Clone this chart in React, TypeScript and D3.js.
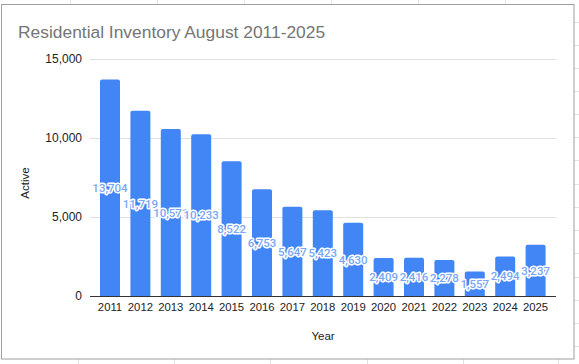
import React from "react";
import * as d3 from "d3";

const years = ["2011","2012","2013","2014","2015","2016","2017","2018","2019","2020","2021","2022","2023","2024","2025"];
const active = [13704, 11719, 10571, 10233, 8522, 6753, 5647, 5423, 4630, 2409, 2416, 2278, 1557, 2494, 3237];
const yTicks = [0, 5000, 10000, 15000];
const title = "Residential Inventory August 2011-2025";
const xTitle = "Year";
const yTitle = "Active";

const W = 579, H = 364;
const topGridX = [70, 157, 244, 331, 418, 505];
const bottomGridX = [78, 174, 270, 367, 463, 558];
const rightGridY = [22, 45, 68, 91, 114, 137, 160, 184, 207, 230, 253, 277, 300, 323, 346];

function barPath(x: number, y: number, w: number, h: number, r: number) {
  const rr = Math.min(r, h);
  return `M${x},${y + h}V${y + rr}Q${x},${y} ${x + rr},${y}H${x + w - rr}Q${x + w},${y} ${x + w},${y + rr}V${y + h}Z`;
}

export default function App() {
  const x = d3.scaleBand<string>().domain(years).range([94.8, 550.8]).paddingInner(0.342).paddingOuter(0.171);
  const y = d3.scaleLinear().domain([0, 15000]).range([296, 59]);
  const fmt = d3.format(",");
  const bw = 20;
  return (
    <svg width={W} height={H} style={{ position: "absolute", left: 0, top: 0 }} xmlns="http://www.w3.org/2000/svg">
      <rect x={0} y={0} width={W} height={H} fill="#fff" />
      {topGridX.map((gx, i) => <line key={"t" + i} x1={gx + 0.5} x2={gx + 0.5} y1={0} y2={4} stroke="#e2e2e2" />)}
      {bottomGridX.map((gx, i) => <line key={"b" + i} x1={gx + 0.5} x2={gx + 0.5} y1={359} y2={H} stroke="#e2e2e2" />)}
      {rightGridY.map((gy, i) => <line key={"r" + i} x1={574} x2={W} y1={gy + 0.5} y2={gy + 0.5} stroke="#e2e2e2" />)}
      <rect x={1.5} y={4.5} width={572.5} height={354.5} fill="#fff" stroke="#9e9e9e" />
      <text x={18} y={38} fontFamily="Liberation Sans, Arial, sans-serif" fontSize={17.4} fill="#757575">{title}</text>
      {yTicks.filter(t => t > 0).map(t => (
        <line key={"g" + t} x1={90} x2={556} y1={Math.round(y(t)) + 0.5} y2={Math.round(y(t)) + 0.5} stroke="#e0e0e0" />
      ))}
      {yTicks.map(t => (
        <text key={"yl" + t} x={82} y={y(t)} dy="0.35em" textAnchor="end" fontFamily="Liberation Sans, Arial, sans-serif" fontSize={12} fill="#222">{fmt(t)}</text>
      ))}
      {years.map((yr, i) => {
        const cx = (x(yr) as number) + x.bandwidth() / 2;
        const top = y(active[i]);
        return <path key={"bar" + yr} d={barPath(cx - bw / 2, top, bw, y(0) - top, 2)} fill="#4285f4" />;
      })}
      <line x1={90} x2={556} y1={296.5} y2={296.5} stroke="#333" />
      {years.map((yr) => {
        const cx = (x(yr) as number) + x.bandwidth() / 2;
        return <text key={"xl" + yr} x={cx} y={311} textAnchor="middle" fontFamily="Liberation Sans, Arial, sans-serif" fontSize={11.3} fill="#222">{yr}</text>;
      })}
      {years.map((yr, i) => {
        const cx = (x(yr) as number) + x.bandwidth() / 2;
        const mid = (y(active[i]) + y(0)) / 2;
        return (
          <text key={"dl" + yr} x={cx} y={mid} dy="0.36em" textAnchor="middle" fontFamily="Roboto, Arial, sans-serif" fontSize={11.5} fontWeight={500}
            fill="#7aa7f7" stroke="#ffffff" strokeWidth={3} strokeLinejoin="round" style={{ paintOrder: "stroke" }}>{fmt(active[i])}</text>
        );
      })}
      <text x={323} y={340} textAnchor="middle" fontFamily="Liberation Sans, Arial, sans-serif" fontSize={11.5} fill="#222">{xTitle}</text>
      <text transform="translate(29,183) rotate(-90)" textAnchor="middle" fontFamily="Liberation Sans, Arial, sans-serif" fontSize={11.5} fill="#222">{yTitle}</text>
    </svg>
  );
}
